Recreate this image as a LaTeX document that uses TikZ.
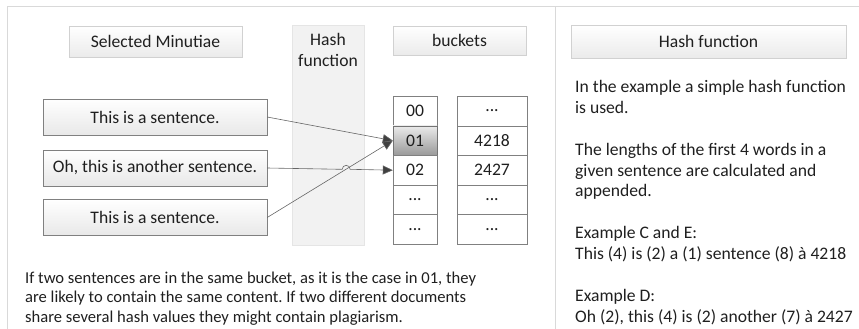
\documentclass[tikz,border=0pt]{standalone}
\usepackage{fontspec}
\setmainfont{Carlito}
\usetikzlibrary{arrows.meta,calc}

\tikzset{
  head/.style={draw=black!18, top color=white, bottom color=black!8, minimum height=31pt, inner sep=0pt},
  sentence/.style={draw=black!50, top color=white, bottom color=black!9, minimum width=224pt, minimum height=36pt, inner sep=0pt},
  cell/.style={draw=black!50, fill=white, minimum height=29.6pt, inner sep=0pt},
  link/.style={draw=black!60, line width=0.6pt, -{Triangle[length=10pt,width=9pt,fill=black!75]}},
  txt/.style={align=left, inner sep=0pt, text=black!88}
}

\begin{document}
\frenchspacing
\begin{tikzpicture}[x=1pt, y=-1pt, font=\fontsize{17.6}{20.9}\selectfont, text=black!88]
    \useasboundingbox (0,0) rectangle (859,329);

    % frame
    \draw[black!15, line width=1pt] (7,329) -- (7,7) -- (859,7);
    \draw[black!15, line width=1pt] (555,7) -- (555,329);

    % hash function column
    \node[draw=black!10, fill=black!5, minimum width=72pt, minimum height=220pt, inner sep=0pt] (hashcol) at (328,135) {};
    \node[align=center, anchor=north, inner sep=0pt] (hashlbl) at (328,33) {Hash\\function};

    % headers
    \node[head, minimum width=173pt] (minutiae) at (155.5,41.5) {Selected Minutiae};
    \node[head, minimum width=133pt, minimum height=29pt] (buckets) at (459.5,40.5) {buckets};
    \node[head, minimum width=275pt, minimum height=33pt] (hashhead) at (708.5,41.5) {Hash function};

    % sentences
    \node[sentence] (s1) at (155,117) {This is a sentence.};
    \node[sentence] (s2) at (155,168) {Oh, this is another sentence.};
    \node[sentence] (s3) at (155,217.5) {This is a sentence.};

    % buckets
    \node[cell, minimum width=44pt] (key0) at (415,111) {00};
    \node[cell, minimum width=44pt, draw=black!55, top color=black!8, bottom color=black!40] (key1) at (415,140.6) {01};
    \node[cell, minimum width=44pt] (key2) at (415,170.2) {02};
    \node[cell, minimum width=44pt] (key3) at (415,199.8) {...};
    \node[cell, minimum width=44pt] (key4) at (415,229.4) {...};

    \node[cell, minimum width=70pt] (val0) at (492,111) {...};
    \node[cell, minimum width=70pt] (val1) at (492,140.6) {4218};
    \node[cell, minimum width=70pt] (val2) at (492,170.2) {2427};
    \node[cell, minimum width=70pt] (val3) at (492,199.8) {...};
    \node[cell, minimum width=70pt] (val4) at (492,229.4) {...};

    % connectors
    \draw[link] (s1.east) -- (key1.west);
    \draw[link] (s3.east) -- (key1.west);
    \draw[link] (s2.east) -- ($(s2.east)!0.597!(key2.west)$) arc[start angle=180, end angle=0, radius=4pt] -- (key2.west);

    % texts
    \node[txt, anchor=north west, font=\fontsize{16.6}{19.5}\selectfont] (note) at (25,271.5) {If two sentences are in the same bucket, as it is the case in 01, they\\are likely to contain the same content. If two different documents\\share several hash values they might contain plagiarism.};
    \node[txt, anchor=north west] (explain) at (575,80) {In the example a simple hash function\\is used.\\[20.9pt]The lengths of the first 4 words in a\\given sentence are calculated and\\appended.\\[20.9pt]Example C and E:\\This (4) is (2) a (1) sentence (8) à 4218\\[20.9pt]Example D:\\Oh (2), this (4) is (2) another (7) à 2427};
  \end{tikzpicture}
\end{document}
